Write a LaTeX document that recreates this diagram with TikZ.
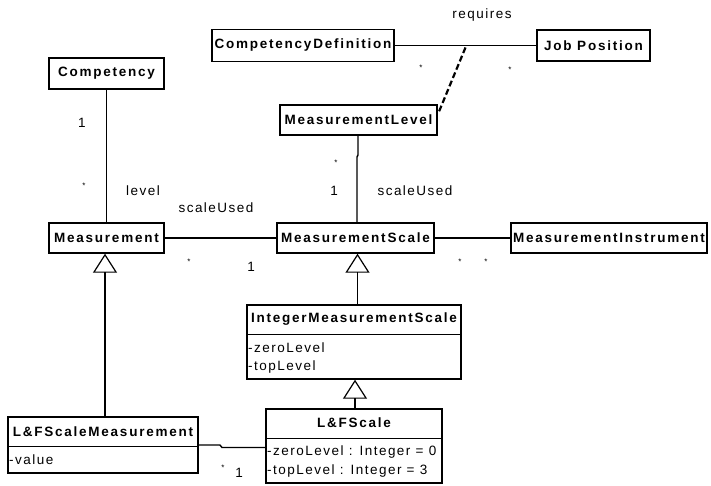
\documentclass[tikz,border=0pt]{standalone}
\usepackage{fontspec}
\setmainfont{Liberation Sans}
\newfontfamily\clsfont[LetterSpace=13]{Liberation Sans Bold}
\newfontfamily\attfont[LetterSpace=11]{Liberation Sans}
\usetikzlibrary{arrows.meta,calc}
\begin{document}
\begin{tikzpicture}[x=1pt,y=-1pt,
  cls/.style={draw, line width=1.4pt, inner sep=0pt, font=\clsfont\fontsize{13.5}{15}\selectfont},
  cname/.style={inner sep=0pt, font=\clsfont\fontsize{13.5}{15}\selectfont},
  attr/.style={inner sep=0pt, anchor=west, font=\attfont\fontsize{13.5}{15}\selectfont},
  lab/.style={inner sep=0pt, font=\attfont\fontsize{13.5}{15}\selectfont},
  star/.style={inner sep=0pt, font=\attfont\fontsize{8}{9}\selectfont},
  assoc/.style={line width=1.4pt},
  sepline/.style={line width=1.4pt},
  gen/.style={line width=1.4pt, -{Triangle[open,width=24pt,length=19pt,line width=1.2pt]}},
  dep/.style={line width=2.2pt, dash pattern=on 6pt off 3pt}
]
\useasboundingbox (0,0) rectangle (711,485);

% simple class boxes
\node[cls, minimum width=182pt, minimum height=32pt] (CD) at (303,45.5) {CompetencyDefinition};
\node[cls, minimum width=113pt, minimum height=31pt] (JP) at (593.5,45.5) {Job Position};
\node[cls, minimum width=115pt, minimum height=31pt] (Comp) at (106.5,73.5) {Competency};
\node[cls, minimum width=157pt, minimum height=30pt] (ML) at (358.5,120) {MeasurementLevel};
\node[cls, minimum width=115pt, minimum height=30pt] (Meas) at (106.5,238) {Measurement};
\node[cls, minimum width=157pt, minimum height=30pt] (MS) at (355.5,238) {MeasurementScale};
\node[cls, minimum width=196pt, minimum height=30pt] (MI) at (609,238) {MeasurementInstrument};

% classes with attributes
\node[cls, minimum width=214pt, minimum height=74pt] (IMS) at (354,342) {};
\draw[sepline] ([yshift=-30pt]IMS.north west) -- ([yshift=-30pt]IMS.north east);
\node[cname] (IMSn) at ([yshift=-15pt]IMS.north) {IntegerMeasurementScale};
\node[attr] (IMSa1) at (248,348) {-zeroLevel};
\node[attr] (IMSa2) at (248,367) {-topLevel};

\node[cls, minimum width=190pt, minimum height=56pt] (LFSM) at (103,445) {};
\draw[sepline] ([yshift=-30pt]LFSM.north west) -- ([yshift=-30pt]LFSM.north east);
\node[cname] (LFSMn) at ([yshift=-15pt]LFSM.north) {L\&FScaleMeasurement};
\node[attr] (LFSMa1) at (9,460) {-value};

\node[cls, minimum width=176pt, minimum height=74pt] (LFS) at (354,446) {};
\draw[sepline] ([yshift=-30pt]LFS.north west) -- ([yshift=-30pt]LFS.north east);
\node[cname] (LFSn) at ([yshift=-14pt]LFS.north) {L\&FScale};
\node[attr] (LFSa1) at (267,452) {-zeroLevel : Integer = 0};
\node[attr] (LFSa2) at (267,471) {-topLevel : Integer = 3};

% associations
\draw[assoc] (CD.east) -- (JP.west);
\coordinate (rq) at ($(CD.east)!0.5!(JP.west)+(0,2)$);
\draw[dep] (rq) -- ($(ML.north east)+(1,8)$);
\draw[assoc] (Comp) -- (Meas);
\draw[assoc] (Meas) -- (MS);
\draw[assoc] (MS) -- (MI);
\coordinate (mlx) at (358,155);
\coordinate (mly) at (357,157);
\draw[assoc] (ML.south -| mlx) -- (mlx) -- (mly) -- (MS.north -| mly);
\coordinate (k1) at (220,445);
\coordinate (k2) at (222,447.5);
\draw[assoc] (LFSM.east |- k1) -- (k1) -- (k2) -- (LFS.west |- k2);

% generalizations
\coordinate (g1) at (357.5,0);
\coordinate (g2) at (355,0);
\coordinate (g3) at (105,0);
\draw[gen] (IMS.north -| g1) -- (MS.south -| g1);
\draw[gen] (LFS.north -| g2) -- (IMS.south -| g2);
\draw[gen] (LFSM.north -| g3) -- (Meas.south -| g3);

% labels
\node[lab] (lreq) at (482,15) {requires};
\node[star] (s1) at (421,68) {*};
\node[star] (s2) at (510,70) {*};
\node[lab] (l1a) at (82,123) {1};
\node[star] (s3) at (84,186) {*};
\node[lab] (llev) at (143,191) {level};
\node[lab] (lsu1) at (216,208) {scaleUsed};
\node[star] (s4) at (189,262) {*};
\node[lab] (l1b) at (251,267) {1};
\node[star] (s5) at (336,163) {*};
\node[lab] (l1c) at (334,191) {1};
\node[lab] (lsu2) at (415,191) {scaleUsed};
\node[star] (s6) at (460,262) {*};
\node[star] (s7) at (486,262) {*};
\node[star] (s8) at (223,468) {*};
\node[lab] (l1d) at (239,473) {1};
\end{tikzpicture}
\end{document}
